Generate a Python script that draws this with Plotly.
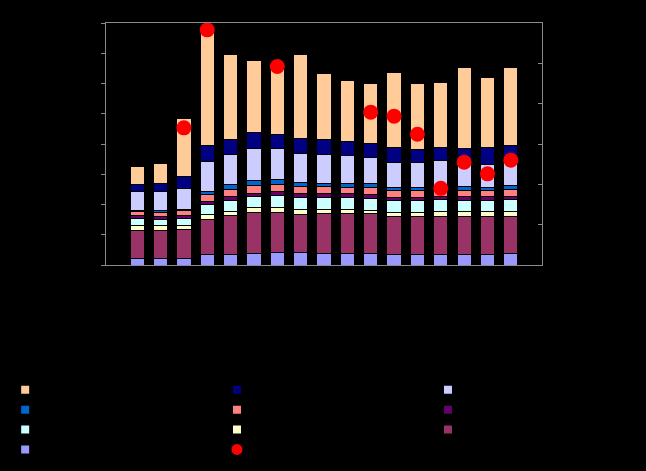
import plotly.graph_objects as go

categories = [str(y) for y in range(1990, 2007)]

# stacked series, bottom to top
s_periwinkle = [2.1, 2.1, 2.1, 3.4, 3.6, 3.7, 4.0, 4.0, 3.9, 3.8, 3.8, 3.6, 3.6, 3.6, 3.6, 3.6, 3.8]
s_plum       = [9.4, 9.3, 9.6, 11.6, 12.7, 13.5, 13.5, 12.7, 13.0, 13.1, 13.1, 12.4, 12.4, 12.6, 12.4, 12.4, 12.4]
s_yellow     = [1.4, 1.5, 1.5, 1.8, 1.4, 1.7, 1.4, 1.7, 1.4, 1.3, 1.2, 1.5, 1.5, 1.5, 1.6, 1.6, 1.5]
s_cyan       = [2.4, 2.2, 2.3, 3.1, 3.6, 3.6, 4.1, 4.0, 3.9, 4.0, 4.0, 3.7, 3.7, 3.8, 3.7, 3.7, 3.8]
s_purple     = [1.0, 1.0, 0.8, 1.0, 1.4, 1.3, 1.3, 1.3, 1.3, 1.3, 1.2, 1.2, 1.2, 1.2, 1.2, 1.2, 1.2]
s_salmon     = [1.3, 1.4, 1.7, 2.3, 2.3, 2.5, 2.4, 2.3, 2.3, 2.2, 2.3, 2.2, 2.2, 2.2, 2.2, 2.2, 2.3]
s_blue       = [0.5, 0.5, 0.5, 1.2, 1.6, 1.7, 1.7, 1.2, 1.2, 1.2, 1.2, 1.1, 1.0, 0.9, 1.1, 1.0, 1.2]
s_lavender   = [6.1, 6.4, 6.9, 9.8, 9.9, 10.4, 10.2, 9.6, 9.5, 9.3, 8.8, 8.3, 8.4, 8.6, 8.0, 7.5, 8.4]
s_navy       = [2.3, 2.5, 3.8, 5.2, 5.0, 5.3, 4.6, 5.0, 4.9, 4.6, 4.6, 4.8, 4.1, 4.6, 4.7, 5.7, 4.8]
s_peach      = [6.0, 6.6, 19.1, 37.5, 28.0, 23.8, 22.0, 27.8, 21.8, 20.2, 19.9, 24.7, 22.0, 21.4, 26.8, 23.0, 25.9]

# red markers on secondary axis (None = no marker)
dots = [None, None, 34.0, 58.3, None, None, 49.2, None, None, None, 37.9, 36.9, 32.4, 19.0, 25.5, 22.6, 26.0]

series_names = ["Series 1", "Series 2", "Series 3", "Series 4", "Series 5",
                "Series 6", "Series 7", "Series 8", "Series 9", "Series 10"]
stack = [s_periwinkle, s_plum, s_yellow, s_cyan, s_purple, s_salmon, s_blue, s_lavender, s_navy, s_peach]
colors = ["#9999FF", "#993366", "#FFFFCC", "#CCFFFF", "#660066", "#FF8080", "#0066CC", "#CCCCFF", "#000080", "#FFCC99"]
dot_name = "Series 11"

fig = go.Figure()
for name, vals, col in zip(series_names, stack, colors):
    fig.add_trace(go.Bar(x=categories, y=vals, name=name, marker=dict(color=col, line=dict(color="black", width=1)),
                         showlegend=False))

fig.add_trace(go.Scatter(x=categories, y=dots, mode="markers", name=dot_name, yaxis="y2",
                         marker=dict(color="#FF0000", size=15, line=dict(width=0)), showlegend=False))

# legend entries laid out in three columns (top of stack first, row by row)
legend_order = [9, 8, 7, 6, 5, 4, 3, 2, 1, 0, "dot"]
legend_ids = ["legend", "legend2", "legend3"]
for k, i in enumerate(legend_order):
    lg = legend_ids[k % 3]
    if i == "dot":
        fig.add_trace(go.Scatter(x=[None], y=[None], mode="markers", name=dot_name, legend=lg,
                                 marker=dict(symbol="circle", size=11, color="#FF0000", line=dict(width=0))))
    else:
        fig.add_trace(go.Scatter(x=[None], y=[None], mode="markers", name=series_names[i], legend=lg,
                                 marker=dict(symbol="square", size=8, color=colors[i], line=dict(width=0))))

axis_col = "#8a8a8a"
leg_common = dict(orientation="v", yref="container", xref="container", xanchor="left", yanchor="top",
                  y=0.2042, traceorder="normal", font=dict(size=13, color="black"), bgcolor="rgba(0,0,0,0)")
fig.update_layout(
    width=646, height=471,
    paper_bgcolor="black", plot_bgcolor="black",
    barmode="stack", bargap=0.39,
    margin=dict(l=106, r=104, t=23, b=206, autoexpand=False),
    font=dict(family="Liberation Sans, Arial, sans-serif", size=12, color="black"),
    xaxis=dict(showgrid=False, showline=True, linecolor=axis_col, linewidth=1, mirror=True,
               ticks="", layer="below traces", tickfont=dict(color="black"), zeroline=False),
    yaxis=dict(range=[0, 80], dtick=10, showgrid=False, showline=True, linecolor=axis_col, linewidth=1,
               ticks="outside", ticklen=4, tickcolor=axis_col, tickfont=dict(color="black"), zeroline=False),
    yaxis2=dict(range=[0, 60], dtick=10, overlaying="y", side="right", showgrid=False, showline=True,
                linecolor=axis_col, linewidth=1, ticks="inside", ticklen=4, tickcolor=axis_col,
                tickfont=dict(color="black"), zeroline=False),
    legend=dict(x=0.008, **leg_common),
    legend2=dict(x=0.3359, **leg_common),
    legend3=dict(x=0.6625, **leg_common),
)

fig.write_html("out.html", config={"displayModeBar": False})
with open("out.html", encoding="utf-8") as f:
    html = f.read()
html = html.replace("<body>", '<body style="margin:0;background:black">', 1)
with open("out.html", "w", encoding="utf-8") as f:
    f.write(html)
